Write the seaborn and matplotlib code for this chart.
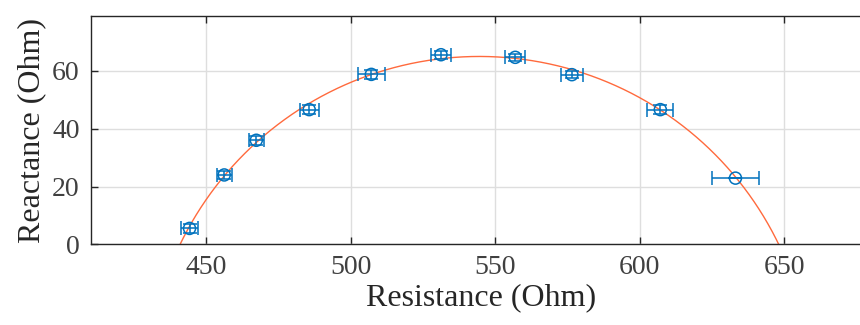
import numpy as np
import pandas as pd
import matplotlib
matplotlib.use("Agg")
import matplotlib.pyplot as plt
import seaborn as sns

# Measured data
resistance = [444.2, 456.2, 467.3, 485.6, 507.1, 531.2, 556.9, 576.5, 607.1, 633.1]
reactance = [5.5, 24.0, 36.0, 46.6, 58.8, 65.6, 64.7, 58.7, 46.6, 22.9]
resistance_err = [3.0, 2.6, 2.6, 3.3, 4.6, 3.5, 3.5, 3.8, 4.5, 8.0]
reactance_err = [1.5, 1.5, 1.6, 1.5, 1.6, 1.4, 1.3, 1.2, 1.6, 0.0]

# Fitted circle (Cole arc) parameters
fit_center_x = 544.5
fit_center_y = -50.0
fit_radius = 115.0

xticks = [450, 500, 550, 600, 650]
yticks = [0, 20, 40, 60]

sns.set_theme(style="white")
plt.rcParams["font.family"] = ["Liberation Serif", "DejaVu Serif"]

text_color = "#262626"
blue = "#0072BD"
orange = "#FF6A3D"

fig = plt.figure(figsize=(8.6, 3.25), dpi=100)
W, H = 860, 325
ax_left, ax_right, ax_bottom, ax_top = 90.7, 871.0, 244.3, 16
ax = fig.add_axes([ax_left / W, 1 - ax_bottom / H, (ax_right - ax_left) / W, (ax_bottom - ax_top) / H])

# Fit curve
theta = np.linspace(0, np.pi, 600)
fx = fit_center_x + fit_radius * np.cos(theta)
fy = fit_center_y + fit_radius * np.sin(theta)
fit_df = pd.DataFrame({"x": fx, "y": fy})
fit_df = fit_df[fit_df["y"] >= -1]
sns.lineplot(data=fit_df, x="x", y="y", ax=ax, color=orange, linewidth=1.0, sort=False, zorder=2)

# Error bars
ax.errorbar(resistance, reactance, xerr=resistance_err, yerr=reactance_err, fmt="none",
            ecolor=blue, elinewidth=1.1, capsize=5, capthick=1.1, zorder=3)
df = pd.DataFrame({"R": resistance, "X": reactance})
sns.scatterplot(data=df, x="R", y="X", ax=ax, marker="o", s=75, facecolor="none",
                edgecolor=blue, linewidth=1.1, zorder=4)

ax.set_xlim(410, 680)
ax.set_ylim(0, 79)
ax.set_xticks(xticks)
ax.set_yticks(yticks)
ax.grid(True, color="#dedede", linewidth=1.0)
ax.set_axisbelow(True)

for s in ax.spines.values():
    s.set_color(text_color)
    s.set_linewidth(1.0)

ax.tick_params(axis="both", direction="in", length=5, width=1.0, color=text_color,
               labelsize=20, labelcolor="#404040", top=True, right=True,
               bottom=True, left=True, pad=8)
ax.set_xlabel("Resistance (Ohm)", fontsize=23, color="#262626", labelpad=2)
ax.set_ylabel("Reactance (Ohm)", fontsize=23, color="#262626", labelpad=4)

fig.savefig("out.png", dpi=100)
